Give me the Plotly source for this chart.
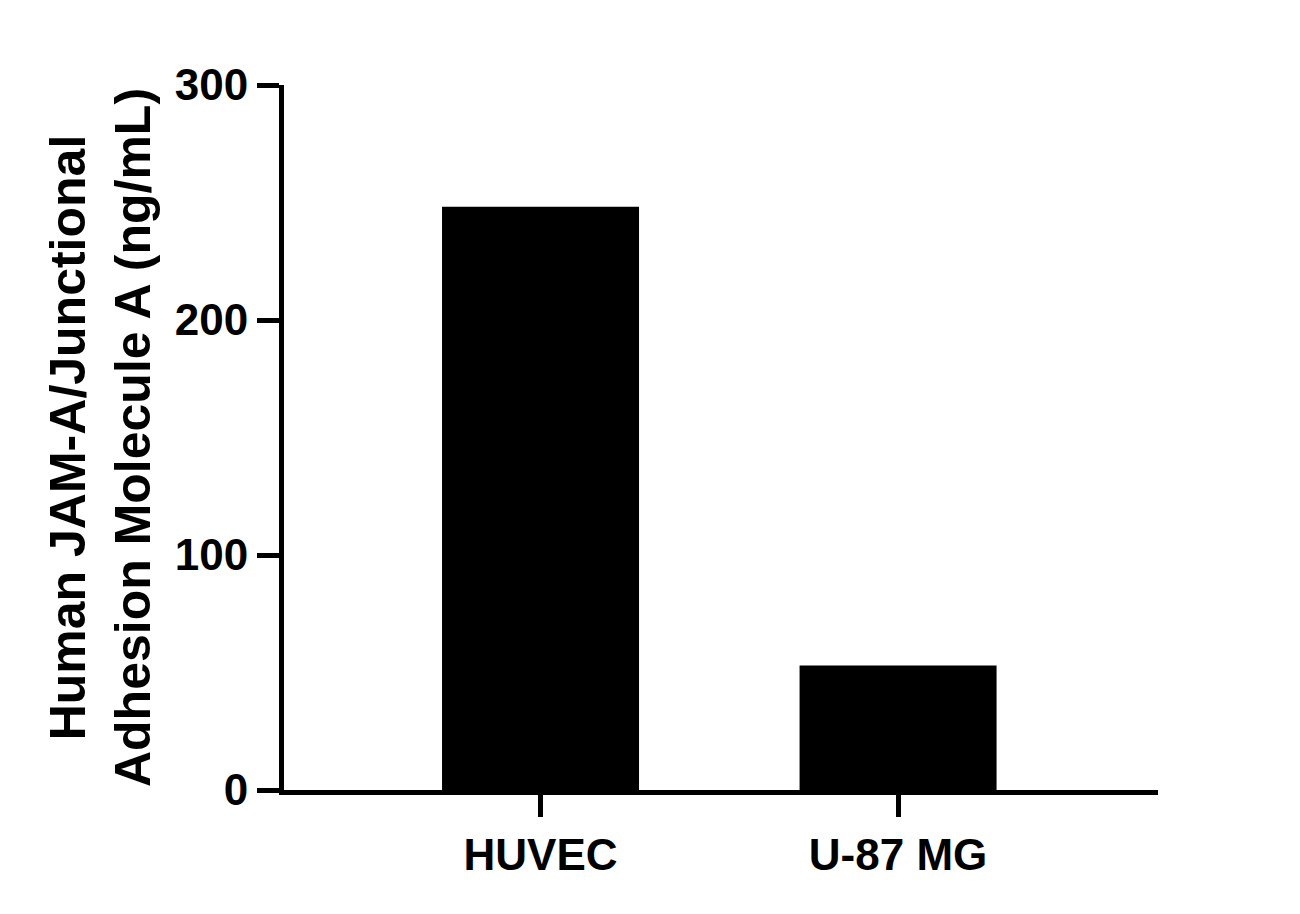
import plotly.graph_objects as go

# ── Data ─────────────────────────────────────────────────────────────────────
cell_lines = ["HUVEC", "U-87 MG"]
jam_a_ng_ml = [248.2, 53.0]

y_ticks = [0, 100, 200, 300]

FONT = "Liberation Sans, Arial, Helvetica, sans-serif"

fig = go.Figure(go.Bar(
    x=cell_lines,
    y=jam_a_ng_ml,
    width=0.551,
    marker=dict(color="black", line=dict(width=0)),
))

# page body has an 8px margin, so the figure is a bit smaller than the window
fig.update_layout(
    width=1284,
    height=898,
    margin=dict(l=276, r=134, t=77, b=116),
    plot_bgcolor="white",
    paper_bgcolor="white",
    showlegend=False,
    font=dict(family=FONT, color="black"),
)

fig.update_xaxes(
    range=[-0.7175, 1.727],
    showline=True, linecolor="black", linewidth=5,
    ticks="outside", ticklen=22, tickwidth=5, tickcolor="black",
    tickfont=dict(family=FONT, size=44, color="black", weight="bold"),
    showgrid=False, zeroline=False,
)

fig.update_yaxes(
    range=[0, 300],
    tickvals=y_ticks,
    showline=True, linecolor="black", linewidth=5,
    ticks="outside", ticklen=22, tickwidth=5, tickcolor="black",
    tickfont=dict(family=FONT, size=44, color="black", weight="bold"),
    showgrid=False, zeroline=False,
    title=dict(
        text="Human JAM-A/Junctional<br>Adhesion Molecule A (ng/mL)",
        font=dict(family=FONT, size=50, color="black", weight="bold"),
        standoff=10,
    ),
)

fig.write_html("out.html")
